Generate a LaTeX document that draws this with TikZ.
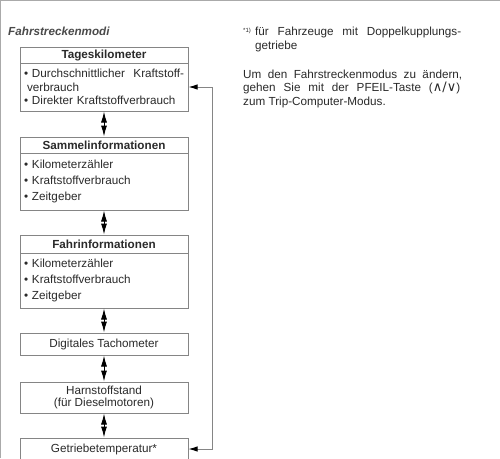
\documentclass[tikz,border=0pt]{standalone}
\usepackage{fontspec}
\setmainfont{Liberation Sans}
\newfontfamily\dejavu{DejaVu Sans}
\usetikzlibrary{arrows.meta}
\definecolor{txt}{HTML}{2A2A2A}
\definecolor{frame}{HTML}{858585}
\begin{document}
\begin{tikzpicture}[x=1pt,y=-1pt,
  every node/.style={text=txt, font=\fontsize{11.7}{13.5}\selectfont},
  hdr/.style={draw=frame, line width=1pt, minimum width=168pt, inner sep=0pt,
    font=\fontsize{11.7}{13.5}\selectfont\bfseries},
  body/.style={draw=frame, line width=1pt, text width=160pt, inner xsep=4pt, inner ysep=0pt, align=left},
  list/.style={body, font=\fontsize{11.7}{15.8}\selectfont},
  single/.style={draw=frame, line width=1pt, minimum width=168pt, inner sep=0pt, align=center},
  dbl/.style={line width=1pt, black, {Latex[length=11pt,width=6pt]}-{Latex[length=11pt,width=6pt]}},
  loop/.style={draw=frame, line width=1pt, {Latex[length=9pt,width=5.5pt,color=black]}-{Latex[length=9pt,width=5.5pt,color=black]}}
]
\useasboundingbox (0,0) rectangle (500,458);
\fill[white] (0,0) rectangle (500,458);
\draw[frame!70, line width=1pt] (0.5,458) -- (0.5,0.5) -- (500,0.5);

\node[font=\fontsize{11.7}{13.5}\selectfont\bfseries\itshape, text=txt!85, anchor=west, inner sep=0pt] (title) at (8,31) {Fahrstreckenmodi};

% Box 1
\node[hdr, minimum height=16pt] (b1h) at (104,55) {Tageskilometer};
\node[body, minimum height=48pt] (b1b) at (104,87) {%
• Durchschnittlicher\hfill Kraftstoff-\\
\hspace*{3pt}verbrauch\\
• Direkter Kraftstoffverbrauch};

% Box 2
\node[hdr, minimum height=16pt] (b2h) at (104,145) {Sammelinformationen};
\node[list, minimum height=57pt] (b2b) at (104,181.5) {%
• Kilometerzähler\\
• Kraftstoffverbrauch\\
• Zeitgeber};

% Box 3
\node[hdr, minimum height=18pt] (b3h) at (104,244) {Fahrinformationen};
\node[list, minimum height=55pt] (b3b) at (104,280.5) {%
• Kilometerzähler\\
• Kraftstoffverbrauch\\
• Zeitgeber};

% Box 4
\node[single, minimum height=22pt] (b4) at (104,344) {Digitales Tachometer};

% Box 5
\node[single, minimum height=31pt, font=\fontsize{11.7}{12.5}\selectfont] (b5) at (104,397.5) {Harnstoffstand\\(für Dieselmotoren)};

% Box 6
\node[single, minimum height=22pt] (b6) at (104,449) {Getriebetemperatur*};

% double arrows
\draw[dbl] (b1b.south) -- (b2h.north);
\draw[dbl] (b2b.south) -- (b3h.north);
\draw[dbl] (b3b.south) -- (b4.north);
\draw[dbl] (b4.south) -- (b5.north);
\draw[dbl] (b5.south) -- (b6.north);

% loop back
\coordinate (lp) at (212,449);
\draw[loop] (b6.east) -- (lp) |- (b1b.east);

% right text
\node[anchor=base west, inner sep=0pt, align=left] (note) at (243,49) {%
\makebox[12pt][l]{\raisebox{3.5pt}{\fontsize{6}{7}\selectfont *1)}}\makebox[206pt][s]{für Fahrzeuge mit Doppelkupplungs-}\\
\hspace*{12pt}getriebe};

\node[anchor=base west, inner sep=0pt, align=left] (info) at (243,105) {%
\makebox[219pt][s]{Um den Fahrstreckenmodus zu ändern,}\\
\makebox[217pt][s]{gehen Sie mit der PFEIL-Taste ({\dejavu\fontsize{13}{13.5}\selectfont ∧/∨})}\\
zum Trip-Computer-Modus.};
\end{tikzpicture}
\end{document}
